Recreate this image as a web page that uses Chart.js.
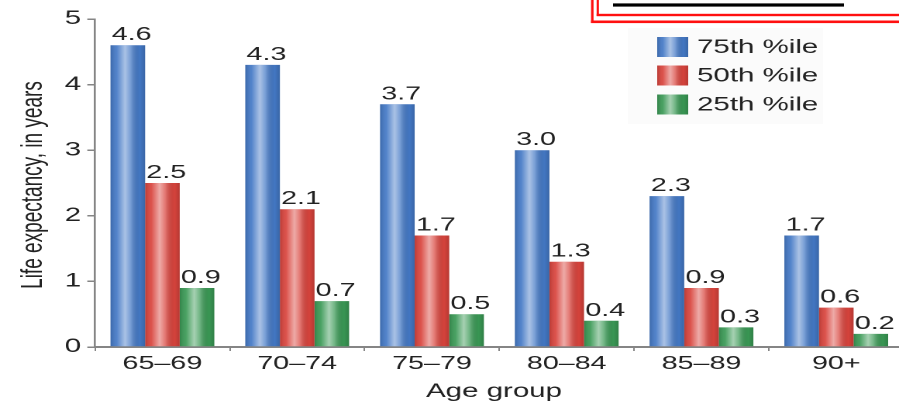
<!DOCTYPE html>
<html>
<head>
<meta charset="utf-8">
<title>Life expectancy by age group</title>
<script src="https://cdn.jsdelivr.net/npm/chart.js@4/dist/chart.umd.min.js"></script>
<style>
  html, body { margin: 0; padding: 0; background: #ffffff; overflow: hidden; width: 899px; height: 406px; }
  /* the figure is drawn narrow and widened horizontally, like the printed original */
  #wrap { position: absolute; left: 0; top: 0; width: 583px; height: 406px; transform: scaleX(1.55); transform-origin: 0 0; }
</style>
</head>
<body>
<div id="wrap"><canvas id="chart"></canvas></div>
<script>
// Age groups on the x axis
const ageGroups = ['65\u201369', '70\u201374', '75\u201379', '80\u201384', '85\u201389', '90+'];

// Remaining life expectancy (years) by percentile
const p75 = [4.6, 4.3, 3.7, 3.0, 2.3, 1.7];
const p50 = [2.5, 2.1, 1.7, 1.3, 0.9, 0.6];
const p25 = [0.9, 0.7, 0.5, 0.4, 0.3, 0.2];

const seriesNames = ['75th %ile', '50th %ile', '25th %ile'];
const yTicks = [0, 1, 2, 3, 4, 5];

const FONT = '"Liberation Sans", Arial, Helvetica, sans-serif';
const INK = '#222222';
const AXIS = '#858585';

// cylindrical shading laid over a flat bar
function paintSheen(ctx, left, top, w, h) {
  if (h <= 0 || w <= 0) return;
  const g = ctx.createLinearGradient(left, 0, left + w, 0);
  g.addColorStop(0, 'rgba(0,0,0,0.14)');
  g.addColorStop(0.18, 'rgba(255,255,255,0.08)');
  g.addColorStop(0.42, 'rgba(255,255,255,0.55)');
  g.addColorStop(0.58, 'rgba(255,255,255,0.28)');
  g.addColorStop(0.85, 'rgba(0,0,0,0.02)');
  g.addColorStop(1, 'rgba(0,0,0,0.16)');
  ctx.fillStyle = g;
  ctx.fillRect(left, top, w, h);
}

const decorations = {
  id: 'decorations',
  beforeDraw(chart) {
    const ctx = chart.ctx;
    ctx.save();
    // faint panel behind the legend
    ctx.fillStyle = 'rgba(0,0,0,0.014)';
    ctx.fillRect(405, 28, 126, 96);
    // red double frame of the slide caption
    ctx.fillStyle = '#ff1010';
    ctx.fillRect(381.3, -10, 1.6, 33);
    ctx.fillRect(381.3, 20.5, 260, 2.6);
    ctx.fillRect(384.9, -10, 1.5, 26);
    ctx.fillRect(384.9, 13.8, 260, 2.4);
    // caption underline
    ctx.fillStyle = '#000000';
    ctx.fillRect(395.5, 3.4, 149, 3.2);
    ctx.restore();
  },
  afterDatasetsDraw(chart) {
    const ctx = chart.ctx;
    ctx.save();
    chart.data.datasets.forEach((ds, i) => {
      const meta = chart.getDatasetMeta(i);
      meta.data.forEach((bar, j) => {
        const p = bar.getProps(['x', 'y', 'base', 'width'], true);
        paintSheen(ctx, p.x - p.width / 2, p.y, p.width, p.base - p.y);
        ctx.fillStyle = INK;
        ctx.font = '18.5px ' + FONT;
        ctx.textAlign = 'center';
        ctx.textBaseline = 'alphabetic';
        ctx.fillText(ds.data[j].toFixed(1), p.x + 2.5, p.y - 5);
      });
    });

    // legend
    const rows = [47, 75.5, 104.5];
    chart.data.datasets.forEach((ds, i) => {
      const cy = rows[i];
      ctx.fillStyle = ds.backgroundColor;
      ctx.fillRect(424, cy - 10, 20, 20);
      paintSheen(ctx, 424, cy - 10, 20, 20);
      ctx.fillStyle = INK;
      ctx.font = '19px ' + FONT;
      ctx.textAlign = 'left';
      ctx.textBaseline = 'middle';
      ctx.fillText(ds.label, 449.7, cy + 1);
    });

    // axis titles
    ctx.fillStyle = INK;
    ctx.font = '19px ' + FONT;
    ctx.textAlign = 'center';
    ctx.textBaseline = 'alphabetic';
    ctx.fillText('Age group', 318.7, 397);
    ctx.translate(27, 185);
    ctx.rotate(-Math.PI / 2);
    ctx.fillText('Life expectancy, in years', 0, 0);
    ctx.restore();
  }
};

new Chart(document.getElementById('chart'), {
  type: 'bar',
  data: {
    labels: ageGroups,
    datasets: [
      { label: seriesNames[0], data: p75, backgroundColor: '#4479c6' },
      { label: seriesNames[1], data: p50, backgroundColor: '#d9443d' },
      { label: seriesNames[2], data: p25, backgroundColor: '#3a9955' }
    ]
  },
  options: {
    responsive: true,
    maintainAspectRatio: false,
    devicePixelRatio: 2,
    animation: false,
    layout: { padding: { top: 19, left: 0, right: 0, bottom: 0 } },
    datasets: { bar: { categoryPercentage: 0.77, barPercentage: 1.0, borderWidth: 0 } },
    plugins: { legend: { display: false }, tooltip: { enabled: false } },
    scales: {
      x: {
        grid: { display: true, drawOnChartArea: false, drawTicks: true, tickLength: 4, color: AXIS, lineWidth: 1 },
        border: { display: true, color: AXIS, width: 2 },
        ticks: { color: INK, font: { family: FONT, size: 18.5 }, padding: 2, maxRotation: 0 },
        afterFit(scale) { scale.height = 59; }
      },
      y: {
        min: 0,
        max: 5,
        afterBuildTicks(scale) { scale.ticks = yTicks.map(v => ({ value: v })); },
        grid: { display: true, drawOnChartArea: false, drawTicks: true, tickLength: 5, color: AXIS, lineWidth: 1.5 },
        border: { display: true, color: AXIS, width: 1.3 },
        ticks: { color: INK, font: { family: FONT, size: 19 }, padding: 4 },
        afterFit(scale) { scale.width = 61.3; }
      }
    }
  },
  plugins: [decorations]
});
</script>
</body>
</html>
